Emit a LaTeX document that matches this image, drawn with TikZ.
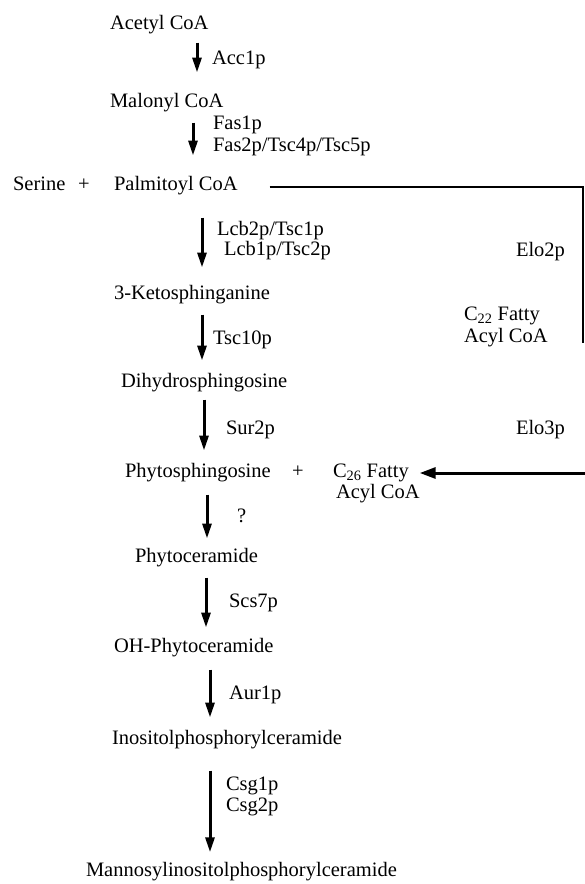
\documentclass[tikz,border=0pt]{standalone}
\usepackage{fontspec}
\setmainfont{Liberation Serif}
\usetikzlibrary{arrows.meta}
\begin{document}
\begin{tikzpicture}[x=1pt,y=-1pt,
  every node/.style={inner sep=0pt, outer sep=0pt, anchor=west, text height=13.5pt, text depth=4pt,
    font=\fontsize{20.5}{21}\selectfont},
  twoline/.style={align=left, text height=, text depth=, font=\fontsize{20.5}{21.5}\selectfont},
  arr/.style={line width=3pt, -{Triangle[width=9pt,length=15pt]}},
  arrl/.style={line width=3pt, -{Triangle[width=11pt,length=16pt]}},
  conn/.style={line width=2.6pt}]
\useasboundingbox (0,0) rectangle (585,884);
% main chain
\node (acetyl) at (110,25) {Acetyl CoA};
\node (malonyl) at (110,103) {Malonyl CoA};
\node (serine) at (13,186) {Serine};
\node (plus1) at (78,186) {+};
\node (palm) at (114,186) {Palmitoyl CoA};
\node (keto) at (114,295) {3-Ketosphinganine};
\node (dihydro) at (121,383) {Dihydrosphingosine};
\node (phytos) at (125,473) {Phytosphingosine};
\node (plus2) at (292,473) {+};
\node (c26) at (333,473) {C\textsubscript{26} Fatty};
\node (acyl26) at (336,494) {Acyl CoA};
\node (phytoc) at (135,558) {Phytoceramide};
\node (ohphyto) at (114,648) {OH-Phytoceramide};
\node (ipc) at (112,740) {Inositolphosphorylceramide};
\node (mipc) at (86,872) {Mannosylinositolphosphorylceramide};
% side texts
\node[twoline] (c22) at (464,327) {C\textsubscript{22} Fatty\\Acyl CoA};
\node (elo2) at (516,252) {Elo2p};
\node (elo3) at (516,430) {Elo3p};
% enzyme labels
\node (acc1) at (212,60) {Acc1p};
\node (fas1) at (213,125) {Fas1p};
\node (fas2) at (213,147) {Fas2p/Tsc4p/Tsc5p};
\node (lcb2) at (217,230.5) {Lcb2p/Tsc1p};
\node (lcb1) at (224,251) {Lcb1p/Tsc2p};
\node (tsc10) at (213,340) {Tsc10p};
\node (sur2) at (226,430) {Sur2p};
\node (q) at (237,518) {?};
\node (scs7) at (229,603) {Scs7p};
\node (aur1) at (229,695) {Aur1p};
\node (csg1) at (226,786) {Csg1p};
\node (csg2) at (226,807) {Csg2p};
% arrow columns
\coordinate (x1) at (197,0);
\coordinate (x2) at (193,0);
\coordinate (x3) at (202,0);
\coordinate (x4) at (202,0);
\coordinate (x5) at (204,0);
\coordinate (x6) at (207,0);
\coordinate (x7) at (206,0);
\coordinate (x8) at (210,0);
\coordinate (x9) at (210,0);
\draw[arr, shorten <=8.75pt, shorten >=21.75pt] (acetyl.south -| x1) -- (malonyl.north -| x1);
\draw[arr, shorten <=10.75pt, shorten >=21.75pt] (malonyl.south -| x2) -- (palm.north -| x2);
\draw[arr, shorten <=22.75pt, shorten >=18.75pt] (palm.south -| x3) -- (keto.north -| x3);
\draw[arr, shorten <=10.75pt, shorten >=13.75pt] (keto.south -| x4) -- (dihydro.north -| x4);
\draw[arr, shorten <=7.75pt, shorten >=13.75pt] (dihydro.south -| x5) -- (phytos.north -| x5);
\draw[arr, shorten <=12.75pt, shorten >=10.75pt] (phytos.south -| x6) -- (phytoc.north -| x6);
\draw[arr, shorten <=10.75pt, shorten >=11.75pt] (phytoc.south -| x7) -- (ohphyto.north -| x7);
\draw[arr, shorten <=12.75pt, shorten >=13.75pt] (ohphyto.south -| x8) -- (ipc.north -| x8);
\draw[arr, shorten <=21.75pt, shorten >=11pt] (ipc.south -| x9) -- (mipc.north -| x9);
% elongation path
\coordinate (corner) at (583,187);
\coordinate (vend) at (583,343);
\coordinate (e3start) at (585,473);
\draw[conn, shorten <=32pt] (palm.east |- corner) -- (corner) -- (vend);
\draw[arrl] (e3start) -- (acyl26.east |- c26);
\end{tikzpicture}
\end{document}
